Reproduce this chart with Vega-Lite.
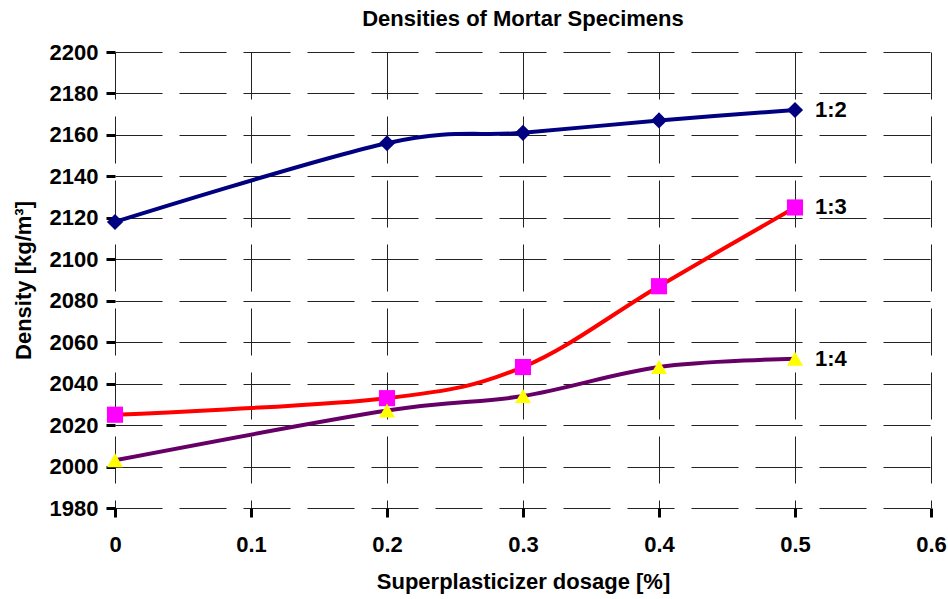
{
  "$schema": "https://vega.github.io/schema/vega-lite/v6.json",
  "width": 816,
  "height": 456,
  "autosize": {"type": "none"},
  "padding": {"left": 115, "top": 52, "right": 17, "bottom": 91},
  "config": {
    "font": "Liberation Sans",
    "view": {"stroke": null},
    "axis": {
      "labelFont": "Liberation Sans",
      "labelFontWeight": "bold",
      "labelFontSize": 22,
      "labelColor": "#000000",
      "titleFont": "Liberation Sans",
      "titleFontWeight": "bold",
      "titleFontSize": 22,
      "titleColor": "#000000",
      "gridColor": "#222222",
      "gridWidth": 1,
      "gridDash": [47, 17]
    },
    "title": {"font": "Liberation Sans", "fontWeight": "bold", "fontSize": 22, "color": "#000000"}
  },
  "title": {"text": "Densities of Mortar Specimens", "anchor": "middle", "offset": 10},
  "datasets": {
    "densities": [
      {"dosage": 0, "density": 2118, "mix": "1:2"},
      {"dosage": 0.2, "density": 2156, "mix": "1:2"},
      {"dosage": 0.3, "density": 2161, "mix": "1:2"},
      {"dosage": 0.4, "density": 2167, "mix": "1:2"},
      {"dosage": 0.5, "density": 2172, "mix": "1:2"},
      {"dosage": 0, "density": 2025, "mix": "1:3"},
      {"dosage": 0.2, "density": 2033, "mix": "1:3"},
      {"dosage": 0.3, "density": 2048, "mix": "1:3"},
      {"dosage": 0.4, "density": 2087, "mix": "1:3"},
      {"dosage": 0.5, "density": 2125, "mix": "1:3"},
      {"dosage": 0, "density": 2003, "mix": "1:4"},
      {"dosage": 0.2, "density": 2027, "mix": "1:4"},
      {"dosage": 0.3, "density": 2034, "mix": "1:4"},
      {"dosage": 0.4, "density": 2048, "mix": "1:4"},
      {"dosage": 0.5, "density": 2052, "mix": "1:4"}
    ],
    "frame": [{"name": "frame"}]
  },
  "data": {"name": "densities"},
  "encoding": {
    "x": {
      "field": "dosage",
      "type": "quantitative",
      "title": "Superplasticizer dosage [%]",
      "scale": {"domain": [0, 0.6], "nice": false, "zero": false},
      "axis": {"values": [0, 0.1, 0.2, 0.3, 0.4, 0.5, 0.6], "format": ".1~f", "labelPadding": 17, "titlePadding": 16, "labelFlush": false,
        "domain": false, "tickColor": "#000000", "tickWidth": 3, "tickSize": 9}
    },
    "y": {
      "field": "density",
      "type": "quantitative",
      "title": "Density [kg/m³]",
      "scale": {"domain": [1980, 2200], "nice": false, "zero": false},
      "axis": {"values": [1980, 2000, 2020, 2040, 2060, 2080, 2100, 2120, 2140, 2160, 2180, 2200], "format": "d", "labelPadding": 8, "titlePadding": 14,
        "domain": false, "tickColor": "#000000", "tickWidth": 3, "tickSize": 9}
    }
  },
  "layer": [
    {
      "data": {"name": "frame"},
      "mark": {"type": "rule", "color": "#808080", "strokeWidth": 1},
      "encoding": {"y": {"datum": 2200}, "x": {"datum": 0}, "x2": {"datum": 0.6}}
    },
    {
      "data": {"name": "frame"},
      "mark": {"type": "rule", "color": "#808080", "strokeWidth": 1},
      "encoding": {"x": {"datum": 0.6}, "y": {"datum": 1980}, "y2": {"datum": 2200}}
    },
    {
      "mark": {"type": "line", "interpolate": "cardinal", "strokeWidth": 4},
      "encoding": {
        "detail": {"field": "mix"},
        "stroke": {"field": "mix", "type": "nominal", "legend": null,
          "scale": {"domain": ["1:2", "1:3", "1:4"], "range": ["#000080", "#FF0000", "#660066"]}}
      }
    },
    {
      "mark": {"type": "point", "filled": true, "opacity": 1, "size": 260},
      "encoding": {
        "fill": {"field": "mix", "type": "nominal", "legend": null,
          "scale": {"domain": ["1:2", "1:3", "1:4"], "range": ["#000080", "#FF00FF", "#FFFF00"]}},
        "shape": {"field": "mix", "type": "nominal", "legend": null,
          "scale": {"domain": ["1:2", "1:3", "1:4"], "range": ["diamond", "square", "triangle-up"]}}
      }
    },
    {
      "transform": [{"filter": "datum.dosage == 0.5"}],
      "mark": {"type": "text", "align": "left", "baseline": "middle", "dx": 20, "fontSize": 22, "fontWeight": "bold", "font": "Liberation Sans", "color": "#000000"},
      "encoding": {"text": {"field": "mix"}}
    },
    {
      "data": {"name": "frame"},
      "mark": {"type": "rule", "color": "#000000", "strokeWidth": 3.5, "strokeCap": "square"},
      "encoding": {"x": {"datum": 0}, "y": {"datum": 1980}, "y2": {"datum": 2200}}
    },
    {
      "data": {"name": "frame"},
      "mark": {"type": "rule", "color": "#000000", "strokeWidth": 3.5, "strokeCap": "square"},
      "encoding": {"y": {"datum": 1980}, "x": {"datum": 0}, "x2": {"datum": 0.6}}
    }
  ]
}
